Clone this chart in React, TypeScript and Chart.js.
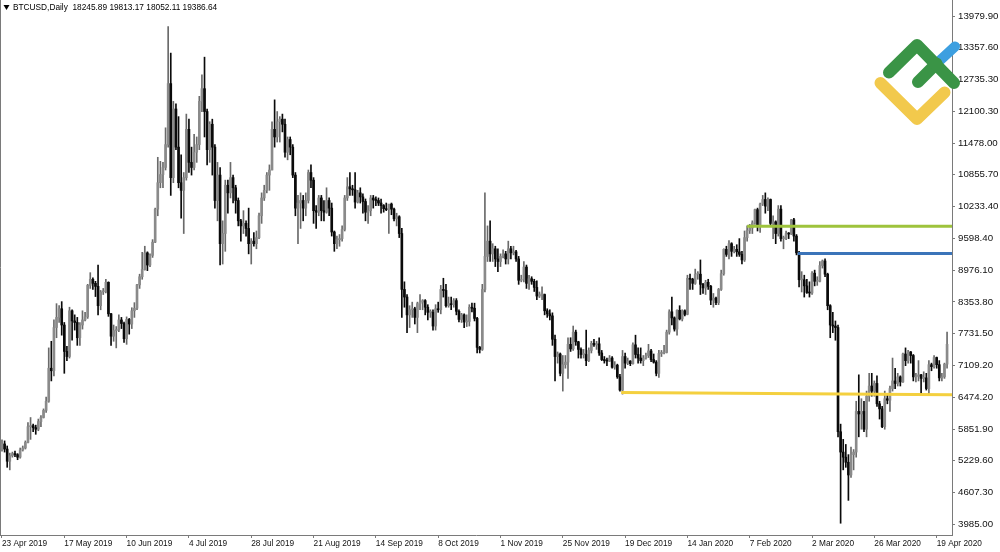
import { useEffect, useRef } from 'react';
import { Chart, registerables } from 'chart.js';

Chart.register(...registerables);

// ---------- DATA (daily candles: [open, high, low, close]) ----------
const APR_2019 = [
  [5450, 5640, 5420, 5560], [5560, 5620, 5400, 5460], [5460, 5520, 5100, 5220], [5220, 5380, 5050, 5330],
  [5330, 5400, 5300, 5370], [5370, 5420, 5310, 5350], [5350, 5370, 5250, 5300], [5300, 5480, 5280, 5440],
];
const MAY_2019 = [
  [5440, 5520, 5420, 5480], [5480, 5620, 5460, 5590], [5590, 5980, 5580, 5900], [5900, 6080, 5650, 5920],
  [5920, 5950, 5800, 5880], [5880, 5930, 5750, 5850], [5850, 6050, 5820, 6000], [6000, 6120, 5900, 6080],
  [6080, 6250, 6070, 6220], [6220, 6480, 6180, 6400], [6400, 7450, 6380, 7050], [7050, 7580, 6800, 7000],
  [7000, 8000, 6900, 7850], [7850, 8320, 7650, 8050], [8050, 8280, 7950, 8220], [8220, 8360, 7700, 7900],
  [7900, 7950, 6950, 7380], [7380, 7480, 7200, 7280], [7280, 8250, 7250, 8180], [8180, 8200, 7600, 7980],
  [7980, 8100, 7800, 7950], [7950, 8050, 7500, 7650], [7650, 7950, 7500, 7900], [7900, 8180, 7820, 8000],
  [8000, 8150, 7980, 8060], [8060, 8700, 8030, 8680], [8680, 8930, 8620, 8800], [8800, 8830, 8600, 8720],
  [8720, 8760, 8460, 8660], [8660, 9080, 8100, 8280], [8280, 8580, 8200, 8550],
];
const JUN_2019 = [
  [8550, 8620, 8500, 8560], [8560, 8800, 8530, 8740], [8740, 8750, 8070, 8120], [8120, 8130, 7500, 7680],
  [7680, 7900, 7580, 7790], [7790, 7870, 7450, 7800], [7800, 8100, 7770, 8000], [8000, 8050, 7830, 7930],
  [7930, 7960, 7560, 7630], [7630, 8060, 7520, 8010], [8010, 8030, 7720, 7920], [7920, 8240, 7830, 8180],
  [8180, 8340, 8050, 8230], [8230, 8700, 8200, 8690], [8690, 8900, 8620, 8850], [8850, 9330, 8800, 8990],
  [8990, 9450, 8980, 9320], [9320, 9340, 8970, 9080], [9080, 9300, 9050, 9270], [9270, 9580, 9230, 9530],
  [9530, 10200, 9520, 10180], [10180, 11200, 10050, 10700], [10700, 11120, 10600, 10860], [10860, 11100, 10600, 11000],
  [11000, 11780, 10950, 11450], [11450, 13770, 11400, 12650], [12650, 13250, 10450, 10800], [10800, 12300, 10700, 12150],
  [12150, 12250, 11350, 11400], [11400, 12000, 10600, 10700],
];
const JUL_2019 = [
  [10700, 11250, 10000, 10550], [10550, 10900, 9700, 10800], [10800, 12050, 10750, 11750], [11750, 11950, 10900, 11100],
  [11100, 11400, 10850, 11000], [11000, 11650, 10950, 11300], [11300, 11600, 11100, 11450], [11450, 12400, 11350, 12300],
  [12300, 12820, 12100, 12550], [12550, 13170, 11600, 12100], [12100, 12150, 11050, 11350], [11350, 11900, 11100, 11850],
  [11850, 11950, 10850, 11400], [11400, 11450, 10200, 10350], [10350, 11100, 9950, 10850], [10850, 11000, 9080, 9500],
  [9500, 9950, 9100, 9700], [9700, 10750, 9350, 10650], [10650, 10750, 10100, 10500], [10500, 11100, 10400, 10800],
  [10800, 10850, 10300, 10600], [10600, 10650, 10100, 10350], [10350, 10400, 9850, 9950], [9950, 9980, 9550, 9850],
  [9850, 10150, 9700, 9900], [9900, 9950, 9650, 9800], [9800, 10200, 9300, 9500], [9500, 9600, 9100, 9550],
  [9550, 9720, 9450, 9500], [9500, 9750, 9400, 9620], [9620, 10100, 9600, 10050],
];
const AUG_2019 = [
  [10050, 10500, 9900, 10400], [10400, 10650, 10350, 10550], [10550, 10900, 10500, 10850], [10850, 11050, 10550, 10950],
  [10950, 11900, 10950, 11750], [11750, 12330, 11400, 11600], [11600, 12100, 11500, 11900], [11900, 12000, 11500, 11950],
  [11950, 12050, 11700, 11850], [11850, 11950, 11200, 11300], [11300, 11600, 11150, 11550], [11550, 11600, 11250, 11400],
  [11400, 11450, 10800, 10850], [10850, 10900, 10050, 10200], [10200, 10450, 9500, 10300], [10300, 10500, 9800, 10350],
  [10350, 10450, 9950, 10200], [10200, 10500, 10050, 10350], [10350, 10950, 10300, 10900], [10900, 11050, 10600, 10750],
  [10750, 10800, 9900, 10150], [10150, 10250, 9800, 10120], [10120, 10450, 10050, 10400], [10400, 10450, 9950, 10150],
  [10150, 10350, 9950, 10120], [10120, 10600, 10100, 10350], [10350, 10400, 10050, 10200], [10200, 10300, 9650, 9730],
  [9730, 9750, 9350, 9500], [9500, 9650, 9400, 9580], [9580, 9680, 9450, 9600],
];
const SEP_2019 = [
  [9600, 9850, 9550, 9780], [9780, 10450, 9750, 10400], [10400, 10800, 10350, 10620], [10620, 10900, 10450, 10580],
  [10580, 10650, 10450, 10560], [10560, 10900, 10200, 10320], [10320, 10550, 10300, 10500], [10500, 10600, 10300, 10420],
  [10420, 10480, 10100, 10330], [10330, 10380, 9950, 10120], [10120, 10250, 9900, 10150], [10150, 10450, 10050, 10400],
  [10400, 10450, 10200, 10360], [10360, 10420, 10250, 10350], [10350, 10400, 10250, 10300], [10300, 10380, 10100, 10250],
  [10250, 10270, 10120, 10190], [10190, 10300, 10150, 10170], [10170, 10250, 9700, 10280], [10280, 10300, 10070, 10180],
  [10180, 10200, 9950, 9990], [9990, 10100, 9850, 10030], [10030, 10050, 9620, 9700], [9700, 9800, 8050, 8600],
  [8600, 8750, 8250, 8450], [8450, 8500, 7750, 8100], [8100, 8280, 7850, 8200], [8200, 8350, 8050, 8220],
  [8220, 8250, 7920, 8050], [8050, 8350, 7750, 8320],
];
const OCT_2019 = [
  [8320, 8500, 8200, 8350], [8350, 8400, 8200, 8380], [8380, 8400, 8100, 8250], [8250, 8300, 8000, 8150],
  [8150, 8200, 8050, 8150], [8150, 8200, 7800, 7880], [7880, 8300, 7800, 8220], [8220, 8350, 8150, 8200],
  [8200, 8680, 8120, 8600], [8600, 8820, 8450, 8580], [8580, 8700, 8250, 8280], [8280, 8450, 8250, 8320],
  [8320, 8450, 8200, 8300], [8300, 8420, 8250, 8380], [8380, 8420, 8100, 8170], [8170, 8200, 7960, 8010],
  [8010, 8130, 7950, 8100], [8100, 8120, 7850, 7960], [7960, 8100, 7870, 7970], [7970, 8300, 7880, 8250],
  [8250, 8330, 8160, 8230], [8230, 8330, 7980, 8030], [8030, 8050, 7350, 7460], [7460, 7480, 7350, 7420],
  [7420, 8700, 7400, 8600], [8600, 10500, 8550, 9250], [9250, 9850, 9150, 9550], [9550, 9950, 9150, 9300],
  [9300, 9500, 9150, 9400], [9400, 9450, 9050, 9200], [9200, 9400, 8950, 9150],
];
const NOV_2019 = [
  [9150, 9300, 9050, 9250], [9250, 9380, 9220, 9300], [9300, 9350, 9100, 9200], [9200, 9550, 9100, 9400],
  [9400, 9450, 9200, 9320], [9320, 9450, 9280, 9340], [9340, 9370, 9150, 9200], [9200, 9250, 8700, 8780],
  [8780, 8880, 8750, 8800], [8800, 9150, 8750, 9040], [9040, 9080, 8620, 8720], [8720, 8880, 8600, 8810],
  [8810, 8850, 8700, 8760], [8760, 8800, 8560, 8640], [8640, 8770, 8400, 8470], [8470, 8550, 8440, 8500],
  [8500, 8650, 8400, 8500], [8500, 8510, 8100, 8180], [8180, 8220, 8050, 8120], [8120, 8200, 8000, 8080],
  [8080, 8140, 7500, 7620], [7620, 7700, 6800, 7280], [7280, 7370, 7150, 7330], [7330, 7350, 6900, 6950],
  [6950, 7300, 6600, 7120], [7120, 7300, 7050, 7170], [7170, 7650, 6850, 7520], [7520, 7650, 7380, 7430],
  [7430, 7880, 7400, 7760], [7760, 7800, 7500, 7570],
];
// 25 Dec has no bar
const DEC_2019 = [
  [7570, 7580, 7250, 7420], [7420, 7450, 7250, 7320], [7320, 7420, 7250, 7320], [7320, 7800, 7100, 7200],
  [7200, 7450, 7180, 7400], [7400, 7580, 7350, 7540], [7540, 7620, 7480, 7510], [7510, 7580, 7420, 7530],
  [7530, 7650, 7300, 7350], [7350, 7400, 7200, 7220], [7220, 7280, 7150, 7200], [7200, 7250, 7100, 7190],
  [7190, 7300, 7180, 7250], [7250, 7280, 7050, 7070], [7070, 7180, 7030, 7110], [7110, 7130, 6850, 6880],
  [6880, 6930, 6600, 6620], [6620, 7400, 6540, 7280], [7280, 7350, 7050, 7150], [7150, 7250, 7120, 7190],
  [7190, 7200, 7100, 7140], [7140, 7550, 7130, 7510], [7510, 7700, 7250, 7320], [7320, 7450, 7150, 7250],
  [7250, 7450, 7150, 7200], [7200, 7300, 7100, 7250], [7250, 7350, 7230, 7300], [7300, 7520, 7260, 7390],
  [7390, 7420, 7180, 7220], [7220, 7330, 7150, 7170],
];
// 1 Jan has no bar
const JAN_2020 = [
  [7170, 7200, 6900, 6950], [6950, 7400, 6870, 7340], [7340, 7400, 7280, 7350], [7350, 7500, 7330, 7360],
  [7360, 7800, 7350, 7760], [7760, 8200, 7720, 8160], [8160, 8450, 7900, 8040], [8040, 8060, 7780, 7820],
  [7820, 8200, 7700, 8190], [8190, 8280, 8000, 8020], [8020, 8200, 7980, 8180], [8180, 8200, 8080, 8110],
  [8110, 8880, 8100, 8820], [8820, 8900, 8600, 8800], [8800, 8820, 8600, 8720], [8720, 9000, 8700, 8900],
  [8900, 8950, 8800, 8900], [8900, 9180, 8500, 8700], [8700, 8720, 8520, 8630], [8630, 8780, 8500, 8740],
  [8740, 8800, 8600, 8660], [8660, 8680, 8300, 8390], [8390, 8520, 8250, 8430], [8430, 8450, 8300, 8340],
  [8340, 8620, 8300, 8600], [8600, 8980, 8580, 8910], [8910, 9400, 8880, 9390], [9390, 9450, 9250, 9290],
  [9290, 9560, 9200, 9500], [9500, 9520, 9250, 9350],
];
const FEB_2020 = [
  [9350, 9450, 9320, 9390], [9390, 9480, 9250, 9340], [9340, 9600, 9250, 9290], [9290, 9350, 9100, 9180],
  [9180, 9750, 9150, 9620], [9620, 9850, 9550, 9760], [9760, 9880, 9700, 9810], [9810, 9950, 9700, 9910],
  [9910, 10180, 9880, 10170], [10170, 10200, 9750, 9860], [9860, 10300, 9720, 10280], [10280, 10450, 10250, 10370],
  [10370, 10500, 10100, 10240], [10240, 10400, 10150, 10370], [10370, 10380, 9850, 9900], [9900, 10050, 9600, 9930],
  [9930, 9950, 9500, 9700], [9700, 10250, 9650, 10180], [10180, 10250, 9550, 9600], [9600, 9650, 9400, 9600],
  [9600, 9750, 9580, 9700], [9700, 9720, 9600, 9690], [9690, 9980, 9680, 9970], [9970, 10000, 9550, 9650],
  [9650, 9680, 9280, 9320], [9320, 9350, 8650, 8790], [8790, 8950, 8550, 8790], [8790, 8880, 8450, 8670],
  [8670, 8800, 8520, 8540],
];
const MAR_2020 = [
  [8540, 8750, 8450, 8530], [8530, 8950, 8500, 8920], [8920, 8980, 8670, 8760], [8760, 8850, 8680, 8760],
  [8760, 9150, 8750, 9070], [9070, 9180, 9020, 9160], [9160, 9200, 8850, 8900], [8900, 8920, 8200, 8280],
  [8280, 8300, 7650, 7900], [7900, 8150, 7750, 7880], [7880, 7980, 7600, 7850], [7850, 7900, 5700, 5800],
  [5800, 5950, 4000, 5400], [5400, 5650, 5050, 5300], [5300, 5550, 5100, 5200], [5200, 5350, 4450, 4950],
  [4950, 5500, 4900, 5350], [5350, 5450, 5050, 5400], [5400, 6400, 5300, 6200], [6200, 6920, 5700, 6150],
  [6150, 6450, 5850, 6200], [6200, 6400, 5800, 5850], [5850, 6600, 5700, 6500], [6500, 6950, 6400, 6700],
  [6700, 6950, 6500, 6600], [6600, 6800, 6500, 6750], [6750, 6900, 6300, 6350], [6350, 6400, 6050, 6250],
  [6250, 6300, 5880, 5900], [5900, 6600, 5850, 6450], [6450, 6550, 6350, 6420],
];
const APR_2020 = [
  [6420, 6700, 6200, 6650], [6650, 7250, 6600, 6800], [6800, 7050, 6650, 6750], [6750, 6950, 6700, 6880],
  [6880, 6900, 6700, 6780], [6780, 7350, 6770, 7330], [7330, 7450, 7100, 7200], [7200, 7400, 7150, 7370],
  [7370, 7380, 7150, 7300], [7300, 7320, 6800, 6880], [6880, 6950, 6780, 6890], [6890, 7200, 6800, 6920],
  [6920, 6930, 6550, 6850], [6850, 6980, 6780, 6860], [6860, 6950, 6620, 6650], [6650, 7200, 6550, 7120],
  [7120, 7150, 7000, 7080], [7080, 7300, 7050, 7260], [7260, 7270, 7050, 7120], [7120, 7200, 6800, 6860],
  [6860, 6950, 6800, 6880], [6880, 7150, 6850, 7130], [7130, 7760, 7050, 7520],
];

const X_TICK_INDEX = [0, 24, 48, 72, 96, 120, 144, 168, 192, 216, 240, 264, 288, 312, 336, 360];
const X_TICK_LABELS = [
  '23 Apr 2019', '17 May 2019', '10 Jun 2019', '4 Jul 2019', '28 Jul 2019', '21 Aug 2019',
  '14 Sep 2019', '8 Oct 2019', '1 Nov 2019', '25 Nov 2019', '19 Dec 2019', '14 Jan 2020',
  '7 Feb 2020', '2 Mar 2020', '26 Mar 2020', '19 Apr 2020',
];
const Y_TICKS = [
  13979.9, 13357.6, 12735.3, 12100.3, 11478.0, 10855.7, 10233.4, 9598.4, 8976.1,
  8353.8, 7731.5, 7109.2, 6474.2, 5851.9, 5229.6, 4607.3, 3985.0,
];

// analysis lines: [fromBar, toBar, priceFrom, priceTo]
const GREEN_LEVEL = [287, 366, 9845, 9845];
const BLUE_LEVEL = [306.5, 366, 9305, 9305];
const YELLOW_LEVEL = [238.5, 366, 6570, 6530];

const HEADER_SYMBOL = 'BTCUSD,Daily';
const HEADER_VALUES = ['18245.89', '19813.17', '18052.11', '19386.64'];

// ---------- STYLE ----------
const FONT = '"Liberation Sans", Arial, sans-serif';
const AXIS_COLOR = '#7a7a7a';
const UP_BODY = '#8a8a8a';
const UP_WICK = '#6a6a6a';
const DOWN_COLOR = '#0a0a0a';

const CANDLES = [
  ...APR_2019, ...MAY_2019, ...JUN_2019, ...JUL_2019, ...AUG_2019, ...SEP_2019, ...OCT_2019,
  ...NOV_2019, ...DEC_2019, ...JAN_2020, ...FEB_2020, ...MAR_2020, ...APR_2020,
];

const overlayPlugin = {
  id: 'overlay',
  afterDraw(chart: any) {
    const ctx = chart.ctx as CanvasRenderingContext2D;
    const a = chart.chartArea;
    ctx.save();
    // left frame line
    ctx.strokeStyle = AXIS_COLOR;
    ctx.lineWidth = 1;
    ctx.beginPath();
    ctx.moveTo(a.left + 0.5, a.top);
    ctx.lineTo(a.left + 0.5, a.bottom);
    ctx.stroke();

    // header
    ctx.fillStyle = '#000000';
    ctx.beginPath();
    ctx.moveTo(a.left + 3.5, 5);
    ctx.lineTo(a.left + 9.5, 5);
    ctx.lineTo(a.left + 6.5, 10);
    ctx.closePath();
    ctx.fill();
    ctx.font = `8.3px ${FONT}`;
    ctx.textBaseline = 'middle';
    ctx.textAlign = 'left';
    ctx.fillText(HEADER_SYMBOL + '  ' + HEADER_VALUES.join(' '), a.left + 13, 8);

    // logo
    const R = a.right;
    ctx.lineCap = 'round';
    ctx.lineJoin = 'round';
    ctx.strokeStyle = '#f2c94c';
    ctx.lineWidth = 12;
    ctx.beginPath();
    ctx.moveTo(R - 71.5, 83);
    ctx.lineTo(R - 35, 119);
    ctx.lineTo(R - 7.5, 92.5);
    ctx.stroke();

    ctx.strokeStyle = '#3d9fe0';
    ctx.lineWidth = 10;
    ctx.beginPath();
    ctx.moveTo(R - 17, 65);
    ctx.lineTo(R + 3, 46.5);
    ctx.stroke();

    ctx.strokeStyle = '#3a9446';
    ctx.lineWidth = 12;
    ctx.beginPath();
    ctx.moveTo(R - 34, 82);
    ctx.lineTo(R - 15.5, 63.5);
    ctx.stroke();
    ctx.beginPath();
    ctx.moveTo(R - 63, 72.5);
    ctx.lineTo(R - 35, 45);
    ctx.lineTo(R + 2, 83);
    ctx.stroke();
    ctx.restore();
  },
};

function levelData(l: number[]) {
  return [
    { x: l[0], y: l[2] },
    { x: l[1], y: l[3] },
  ];
}

export default function App() {
  const ref = useRef<HTMLCanvasElement | null>(null);

  useEffect(() => {
    document.body.style.margin = '0';
    const isUp = CANDLES.map((c) => c[3] >= c[0]);
    const wickData = CANDLES.map((c, i) => ({ x: i, y: [c[2], c[1]] }));
    const bodyData = CANDLES.map((c, i) => ({ x: i, y: [c[0], c[3]] }));

    const lineDs = (l: number[], color: string) => ({
      type: 'line',
      data: levelData(l),
      borderColor: color,
      borderWidth: 3,
      pointRadius: 0,
      tension: 0,
      order: 0,
    });

    const chart = new Chart(ref.current as HTMLCanvasElement, {
      type: 'bar',
      data: {
        datasets: [
          lineDs(GREEN_LEVEL, '#9ec33c'),
          lineDs(BLUE_LEVEL, '#3b74b9'),
          lineDs(YELLOW_LEVEL, '#f4d03f'),
          {
            type: 'bar',
            data: bodyData,
            backgroundColor: isUp.map((u) => (u ? UP_BODY : DOWN_COLOR)),
            borderWidth: 0,
            barThickness: 2,
            minBarLength: 1,
            grouped: false,
            order: 1,
          },
          {
            type: 'bar',
            data: wickData,
            backgroundColor: isUp.map((u) => (u ? UP_WICK : DOWN_COLOR)),
            borderWidth: 0,
            barThickness: 1,
            grouped: false,
            order: 2,
          },
        ] as any,
      },
      options: {
        responsive: false,
        animation: false,
        events: [],
        layout: { padding: 0 },
        plugins: {
          legend: { display: false },
          tooltip: { enabled: false },
        },
        scales: {
          x: {
            type: 'linear',
            position: 'bottom',
            offset: false,
            min: -0.77,
            max: 365.9,
            grid: { display: true, offset: false, drawOnChartArea: false, drawTicks: true, tickLength: 3, color: AXIS_COLOR },
            border: { display: true, color: AXIS_COLOR },
            afterBuildTicks: (s: any) => {
              s.ticks = X_TICK_INDEX.map((v) => ({ value: v }));
            },
            afterFit: (s: any) => {
              s.height = 17;
              s.paddingLeft = 0;
              s.paddingRight = 0;
            },
            ticks: {
              align: 'start',
              padding: 1,
              autoSkip: false,
              maxRotation: 0,
              minRotation: 0,
              color: '#111111',
              font: { family: FONT, size: 8.3 },
              callback: (v: any) => {
                const k = X_TICK_INDEX.indexOf(Number(v));
                return k >= 0 ? X_TICK_LABELS[k] : '';
              },
            },
          },
          y: {
            type: 'linear',
            position: 'right',
            offset: false,
            min: 3768.6,
            max: 14294.7,
            grid: { display: true, drawOnChartArea: false, drawTicks: true, tickLength: 3, color: AXIS_COLOR },
            border: { display: true, color: AXIS_COLOR },
            afterBuildTicks: (s: any) => {
              s.ticks = Y_TICKS.map((v) => ({ value: v }));
            },
            afterFit: (s: any) => {
              s.width = 48;
              s.paddingTop = 0;
              s.paddingBottom = 0;
            },
            ticks: {
              padding: 3,
              autoSkip: false,
              color: '#111111',
              font: { family: FONT, size: 9.7 },
              callback: (v: any) => Number(v).toFixed(2),
            },
          },
        },
      } as any,
      plugins: [overlayPlugin],
    });
    return () => chart.destroy();
  }, []);

  return (
    <div style={{ width: 1000, height: 552, position: 'relative', background: '#ffffff' }}>
      <canvas ref={ref} width={1000} height={552} style={{ display: 'block' }} />
    </div>
  );
}
